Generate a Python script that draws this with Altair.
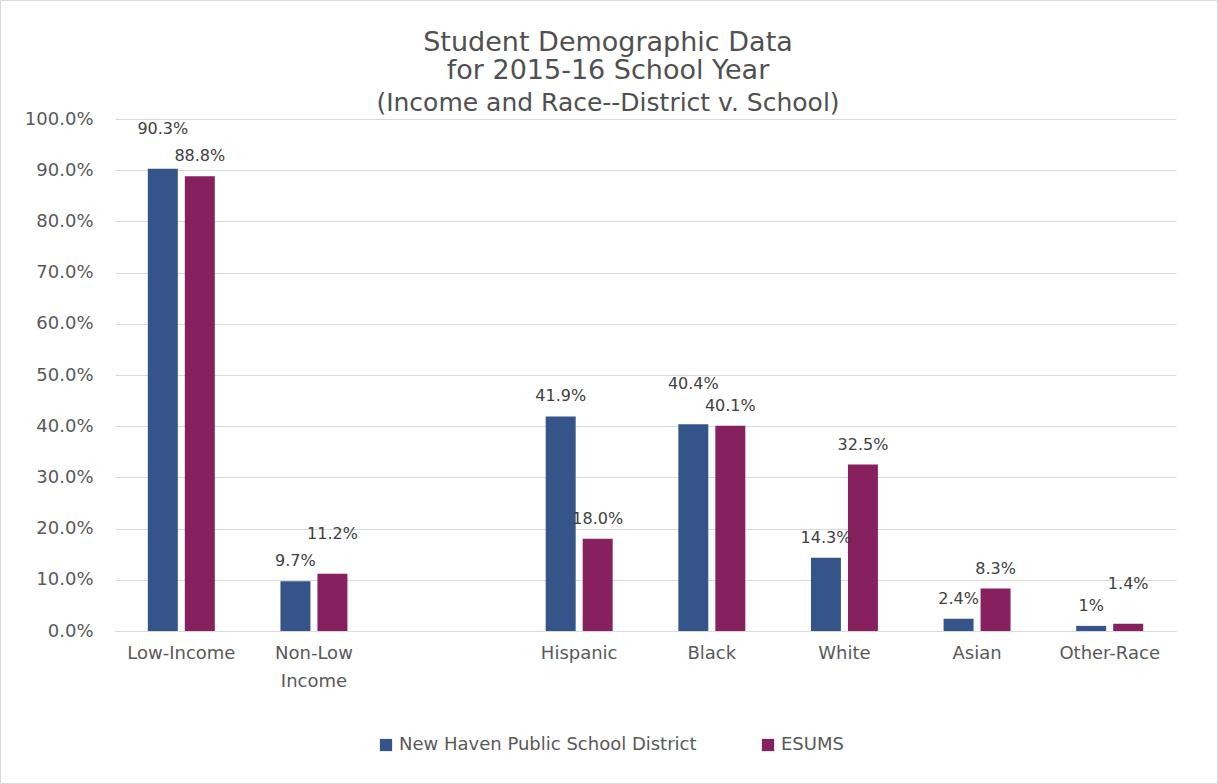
import altair as alt
import pandas as pd

categories = ["Low-Income", "Non-Low Income", " ", "Hispanic", "Black", "White", "Asian", "Other-Race"]
data_categories = ["Low-Income", "Non-Low Income", "Hispanic", "Black", "White", "Asian", "Other-Race"]
series = ["New Haven Public School District", "ESUMS"]
district = [90.3, 9.7, 41.9, 40.4, 14.3, 2.4, 1.0]
esums = [88.8, 11.2, 18.0, 40.1, 32.5, 8.3, 1.4]
district_labels = ["90.3%", "9.7%", "41.9%", "40.4%", "14.3%", "2.4%", "1%"]
esums_labels = ["88.8%", "11.2%", "18.0%", "40.1%", "32.5%", "8.3%", "1.4%"]
colors = ["#34548A", "#87205E"]
y_ticks = [0, 0.1, 0.2, 0.3, 0.4, 0.5, 0.6, 0.7, 0.8, 0.9, 1.0]
title_lines = ["Student Demographic Data", "for 2015-16 School Year", "(Income and Race--District v. School)"]

rows = []
for i, c in enumerate(data_categories):
    d, e = district[i], esums[i]
    close = abs(d - e) < 5
    rows.append({"category": c, "series": series[0], "value": d / 100,
                 "label": district_labels[i], "raised": close and d > e})
    rows.append({"category": c, "series": series[1], "value": e / 100,
                 "label": esums_labels[i], "raised": close and e > d})
df = pd.DataFrame(rows)

FONT = "DejaVu Sans"
TXT = "#595959"
DARK = "#404040"

x = alt.X(
    "category:N",
    scale=alt.Scale(domain=categories, paddingInner=0.495, paddingOuter=0.2475),
    axis=alt.Axis(
        title=None, labelAngle=0, labelFontSize=18, labelColor=TXT, labelFont=FONT,
        labelPadding=13, domainColor="#d9d9d9", ticks=False, labelLineHeight=28, grid=False,
        labelExpr="datum.value == 'Non-Low Income' ? ['Non-Low', 'Income'] : datum.value",
    ),
    sort=categories,
)
xo = alt.XOffset("series:N", scale=alt.Scale(domain=series, paddingInner=0.19, paddingOuter=0))
y = alt.Y(
    "value:Q",
    scale=alt.Scale(domain=[0, 1]),
    axis=alt.Axis(
        title=None, format=".1%", values=y_ticks, grid=True, gridColor="#d9d9d9",
        domain=False, ticks=False, labelFontSize=18, labelColor=TXT, labelFont=FONT,
        labelPadding=22,
    ),
)

base = alt.Chart(df)
bars = base.mark_bar().encode(
    x=x, xOffset=xo, y=y,
    color=alt.Color(
        "series:N",
        scale=alt.Scale(domain=series, range=colors),
        legend=alt.Legend(
            title=None, orient="none", legendX=262, legendY=617, direction="horizontal",
            symbolType="square", symbolSize=150, symbolStrokeWidth=0, labelFontSize=18,
            labelColor=TXT, labelFont=FONT, columnPadding=62, labelOffset=4, labelLimit=500,
        ),
    ),
)
text_normal = base.mark_text(dy=-20, fontSize=16, color=DARK, font=FONT).encode(
    x=x, xOffset=xo, y=y, text="label:N"
).transform_filter("!datum.raised")
text_raised = base.mark_text(dy=-40, fontSize=16, color=DARK, font=FONT).encode(
    x=x, xOffset=xo, y=y, text="label:N"
).transform_filter("datum.raised")

tdf = pd.DataFrame({"t": [0]})
TITLE_C = "#505050"
t1 = alt.Chart(tdf).mark_text(text=title_lines[0], fontSize=27, color=TITLE_C, font=FONT,
                              align="center", baseline="alphabetic").encode(
    x=alt.value(493), y=alt.value(-68))
t2 = alt.Chart(tdf).mark_text(text=title_lines[1], fontSize=27, color=TITLE_C, font=FONT,
                              align="center", baseline="alphabetic").encode(
    x=alt.value(493), y=alt.value(-40))
t3 = alt.Chart(tdf).mark_text(text=title_lines[2], fontSize=25, color=TITLE_C, font=FONT,
                              align="center", baseline="alphabetic").encode(
    x=alt.value(493), y=alt.value(-8))

border = alt.Chart(tdf).mark_rect(
    fill="transparent", stroke="#d9d9d9", strokeWidth=1
).encode(
    x=alt.value(-114.5), x2=alt.value(1102.5), y=alt.value(-118.5), y2=alt.value(664.5)
)

chart = alt.layer(bars, text_normal, text_raised, t1, t2, t3, border).properties(
    width=1061,
    height=512,
    autosize="none",
    padding={"left": 115, "top": 119, "right": 42, "bottom": 153},
    view=alt.ViewBackground(stroke="transparent", strokeWidth=0),
).configure_view(strokeWidth=0, stroke="transparent").configure(background="white")

chart.save("out.html", embed_options={"renderer": "svg", "actions": False})
